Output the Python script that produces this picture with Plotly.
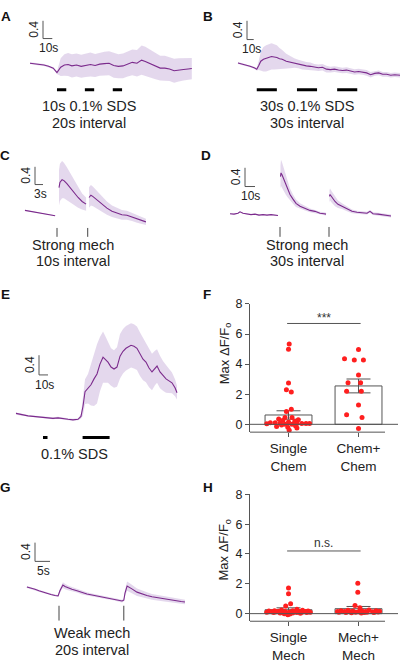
import plotly.graph_objects as go

W, H = 400, 663

# ---------------- data ----------------
# Panel A: 10s 0.1% SDS, 20s interval (time s, mean dF/F, sem)
A_t = [0, 5, 10, 15, 20, 25, 29, 33, 37, 41, 45, 50, 55, 60, 65, 70, 75, 80, 85, 90, 95, 100, 105, 110, 115,
       120, 124, 130, 135, 140, 145, 150, 155, 160, 165, 170, 174]
A_mean = [0.20, 0.19, 0.17, 0.16, 0.13, 0.09, -0.01, 0.11, 0.16, 0.17, 0.14, 0.16, 0.13, 0.15, 0.17, 0.15, 0.18,
          0.19, 0.20, 0.15, 0.13, 0.14, 0.18, 0.22, 0.20, 0.27, 0.24, 0.18, 0.13, 0.09, 0.09, 0.07, 0.03, 0.05,
          0.06, 0.07, 0.08]
A_sem = [0.02, 0.02, 0.02, 0.02, 0.02, 0.02, 0.03, 0.20, 0.24, 0.26, 0.26, 0.26, 0.26, 0.26, 0.27, 0.26, 0.26,
         0.27, 0.27, 0.28, 0.27, 0.28, 0.28, 0.29, 0.30, 0.33, 0.33, 0.31, 0.29, 0.28, 0.28, 0.27, 0.27, 0.26,
         0.25, 0.25, 0.24]
A_stim = [29, 59, 89]
A_stim_dur = 10

# Panel B: 30s 0.1% SDS, 30s interval
B_t = [0, 6, 12, 18, 24, 28, 31, 34, 38, 42, 46, 50, 54, 58, 62, 66, 72, 78, 84, 90, 96, 102, 108, 114, 120,
       126, 132, 138, 144, 150, 156, 162, 168, 174, 180, 186, 192, 198, 204, 210, 216, 222, 228, 234, 242]
B_mean = [0.13, 0.11, 0.08, 0.06, 0.03, 0.00, 0.08, 0.17, 0.21, 0.23, 0.25, 0.27, 0.26, 0.25, 0.22, 0.21, 0.17,
          0.15, 0.13, 0.11, 0.08, 0.07, 0.06, 0.04, 0.03, 0.04, 0.00, -0.01, 0.00, -0.02, -0.03, -0.02, -0.04,
          -0.06, -0.05, -0.06, -0.08, -0.12, -0.09, -0.08, -0.11, -0.11, -0.13, -0.12, -0.13]
B_sem = [0.02, 0.02, 0.02, 0.02, 0.02, 0.03, 0.10, 0.20, 0.26, 0.28, 0.28, 0.28, 0.27, 0.26, 0.23, 0.20, 0.16,
         0.13, 0.10, 0.09, 0.09, 0.08, 0.08, 0.07, 0.07, 0.07, 0.07, 0.06, 0.06, 0.06, 0.06, 0.06, 0.06, 0.06,
         0.06, 0.06, 0.06, 0.06, 0.05, 0.05, 0.05, 0.05, 0.05, 0.05, 0.05]
B_stim = [28, 88, 148]
B_stim_dur = 30

# Panel C: strong mech, 10s interval (separate recordings split at stimuli)
C_t = [-12.0, -10.1, -8.2, -6.4, -4.5, -2.6, -0.7,
       0.75, 1.1, 1.9, 2.6, 3.7, 4.9, 6.4, 7.9, 9.4, 10.9,
       12.0, 12.7, 13.5, 15.0, 16.9, 18.7, 20.6, 22.5, 24.3, 26.2, 28.1, 30.0, 31.8, 33.3]
C_mean = [0.13, 0.11, 0.09, 0.08, 0.06, 0.03, 0.01,
          0.64, 0.76, 0.82, 0.80, 0.73, 0.64, 0.53, 0.42, 0.33, 0.27,
          0.42, 0.47, 0.44, 0.36, 0.27, 0.18, 0.11, 0.07, 0.03, 0.02, -0.02, -0.07, -0.10, -0.13]
C_sem = [0.01, 0.01, 0.01, 0.01, 0.01, 0.01, 0.01,
         0.40, 0.42, 0.42, 0.40, 0.37, 0.33, 0.28, 0.23, 0.18, 0.15,
         0.23, 0.23, 0.22, 0.20, 0.17, 0.15, 0.13, 0.12, 0.11, 0.10, 0.09, 0.08, 0.08, 0.07]
C_stim = [0, 11.5]

# Panel D: strong mech, 30s interval
D_t = [-50, -46, -42, -40, -37, -33, -29, -25, -21, -17, -13, -9, -5, -2,
       0.5, 1, 2, 4, 6, 8, 10, 13, 16, 20, 25, 30, 35, 40, 44, 46,
       49.5, 50, 52, 55, 58, 62, 67, 72, 77, 82, 87, 90, 93, 98, 103, 108, 111]
D_mean = [0.01, 0.00, 0.02, 0.05, 0.02, 0.00, -0.01, 0.00, -0.02, -0.01, -0.02, -0.01, -0.02, -0.03,
          0.80, 0.88, 0.84, 0.74, 0.61, 0.51, 0.42, 0.32, 0.23, 0.17, 0.13, 0.08, 0.06, 0.02, 0.01, 0.00,
          0.38, 0.42, 0.36, 0.27, 0.21, 0.17, 0.11, 0.06, 0.04, 0.03, 0.02, 0.06, 0.01, 0.00, -0.02, -0.03, -0.04]
D_sem = [0.01, 0.01, 0.01, 0.01, 0.01, 0.01, 0.01, 0.01, 0.01, 0.01, 0.01, 0.01, 0.01, 0.01,
         0.25, 0.28, 0.27, 0.24, 0.20, 0.16, 0.13, 0.10, 0.08, 0.06, 0.05, 0.04, 0.03, 0.03, 0.03, 0.03,
         0.13, 0.13, 0.12, 0.10, 0.08, 0.06, 0.05, 0.04, 0.03, 0.03, 0.03, 0.03, 0.03, 0.03, 0.03, 0.03, 0.03]
D_stim = [0, 49]

# Panel E: 0.1% SDS (short then long)
E_t = [0, 4.4, 8.9, 13.3, 18.9, 24.4, 30, 35.6, 41.1, 46.7, 52.2, 57.8, 63.3, 68.9, 72.2, 74.4, 76.7, 80, 83.3,
       86.7, 90, 93.3, 96.7, 98.9, 102.2, 105.6, 108.9, 112.2, 115.6, 118.9, 122.2, 127.8, 131.1, 134.4, 137.8,
       141.1, 144.4, 147.8, 151.1, 154.4, 156.7, 160, 163.3, 166.7, 170, 173.3, 176.7, 178.9]
E_mean = [0.10, 0.08, 0.06, 0.05, 0.04, 0.03, 0.02, 0.01, 0.00, 0.01, -0.01, -0.02, -0.03, -0.02, 0.04, 0.24,
          0.54, 0.60, 0.68, 0.80, 0.90, 1.10, 1.24, 1.20, 1.14, 1.04, 1.00, 1.04, 1.26, 1.36, 1.42, 1.48, 1.46,
          1.42, 1.30, 1.20, 1.14, 1.02, 0.94, 1.02, 1.06, 0.94, 0.86, 0.80, 0.76, 0.72, 0.62, 0.52]
E_sem = [0.02, 0.02, 0.02, 0.02, 0.02, 0.02, 0.02, 0.02, 0.02, 0.02, 0.02, 0.02, 0.02, 0.02, 0.05, 0.18, 0.25,
         0.30, 0.42, 0.55, 0.60, 0.55, 0.52, 0.48, 0.42, 0.38, 0.38, 0.40, 0.45, 0.45, 0.45, 0.45, 0.45, 0.44,
         0.44, 0.43, 0.41, 0.39, 0.37, 0.35, 0.34, 0.33, 0.30, 0.28, 0.25, 0.21, 0.17, 0.14]
E_stim = [30, 74]
E_stim_dur = [5, 30]

# Panel G: weak mech, 20s interval
G_t = [-10.7, -9.3, -8.0, -6.7, -5.3, -4.0, -2.7, -1.3, -0.3, 0.3, 1.0, 1.3, 2.0, 3.0, 4.3, 6.0, 7.7, 9.3, 11.0,
       12.7, 14.3, 16.0, 17.7, 19.3, 21.0, 21.6, 22.0, 22.7, 23.3, 24.3, 26.0, 27.7, 29.3, 31.0, 32.7, 34.3,
       36.0, 37.7, 39.3, 40.7, 42.0]
G_mean = [0.19, 0.17, 0.14, 0.11, 0.08, 0.05, 0.03, 0.01, 0.00, 0.11, 0.21, 0.23, 0.20, 0.17, 0.14, 0.11, 0.07,
          0.04, 0.02, 0.00, -0.02, -0.04, -0.06, -0.08, -0.11, -0.09, 0.06, 0.21, 0.19, 0.15, 0.08, 0.04, 0.01,
          -0.02, -0.04, -0.06, -0.08, -0.09, -0.11, -0.12, -0.13]
G_sem = [0.02, 0.02, 0.02, 0.02, 0.02, 0.02, 0.02, 0.02, 0.02, 0.04, 0.06, 0.06, 0.06, 0.05, 0.05, 0.04, 0.04,
         0.04, 0.03, 0.03, 0.03, 0.03, 0.03, 0.03, 0.03, 0.03, 0.06, 0.10, 0.10, 0.09, 0.08, 0.07, 0.07, 0.06,
         0.06, 0.06, 0.06, 0.05, 0.05, 0.05, 0.05]
G_stim = [0, 21.6]

# Panel F: max dF/F0, chemical
F_cats = ["Single<br>Chem", "Chem+<br>Chem"]
F_bar_mean = [0.62, 2.55]
F_bar_sem = [0.28, 0.46]
F_single = [5.33, 4.98, 2.75, 2.30, 2.15, 1.00, 0.85, 0.45, 0.45, 0.35, 0.30, 0.25, 0.20, 0.15, 0.10, 0.10,
            0.08, 0.05, 0.05, 0.05, 0.05, 0.03, 0.00, 0.00, -0.05, -0.10, -0.15, -0.20, -0.25, -0.40]
F_single_dx = [0.01, 0, 0, -0.03, 0.04, 0.04, -0.03, -0.05, 0.05, -0.14, 0.14, -0.08, 0.09, 0, -0.26, -0.19,
               -0.12, 0.12, 0.19, 0.25, 0.30, -0.31, -0.05, 0.05, -0.10, 0.10, -0.17, -0.01, 0.12, 0.01]
F_double = [4.97, 4.36, 4.28, 4.28, 3.28, 2.76, 2.76, 2.20, 2.20, 1.28, 0.63, 0.46, -0.28]
F_double_dx = [0, -0.20, -0.06, 0.07, 0, -0.15, 0.03, -0.17, 0.04, 0, -0.17, 0.05, 0]
F_sig = ("***", 6.7)

# Panel H: max dF/F0, mechanical
H_cats = ["Single<br>Mech", "Mech+<br>Mech"]
H_bar_mean = [0.26, 0.33]
H_bar_sem = [0.13, 0.15]
H_single = [1.71, 1.34, 0.66, 0.51, 0.30, 0.25, 0.22, 0.20, 0.20, 0.18, 0.17, 0.16, 0.15, 0.15, 0.14, 0.13,
            0.12, 0.12, 0.11, 0.10, 0.10, 0.10, 0.09, 0.08, 0.08, 0.07, 0.06, 0.05, 0.04, 0.03, 0.00, -0.03, -0.07]
H_single_dx = [0, 0, 0.03, -0.04, 0.12, -0.10, 0.20, -0.20, 0.06, -0.28, 0.28, -0.14, 0.15, -0.05, 0.24, -0.24,
               0.09, -0.17, 0.02, 0.31, -0.31, 0.19, -0.09, 0.12, -0.21, 0.26, -0.01, 0.06, -0.12, 0.17, -0.06,
               0.02, -0.01]
H_double = [2.04, 1.43, 0.55, 0.40, 0.25, 0.22, 0.20, 0.19, 0.18, 0.17, 0.16, 0.15, 0.14, 0.14, 0.13, 0.12,
            0.12, 0.11, 0.10, 0.10, 0.09, 0.08, 0.08, 0.07, 0.06, 0.05]
H_double_dx = [-0.01, -0.01, -0.05, 0.02, 0.15, -0.15, 0.25, -0.25, 0.05, -0.08, 0.30, -0.30, 0.10, -0.20, 0.20,
               -0.12, 0.00, 0.28, -0.28, 0.12, -0.04, 0.08, -0.18, 0.22, -0.10, 0.04]
H_sig = ("n.s.", 4.2)

Y_TICKS = [0, 2, 4, 6, 8]

# ---------------- style ----------------
FONT = "Arial, 'Liberation Sans', Helvetica, sans-serif"
PURPLE = "#7b2a8c"
BAND = "rgba(150,105,185,0.26)"
GRAY = "#555555"
TXT = "#222222"
RED = "#ff1f1f"

fig = go.Figure()
axes = {}
shapes = []
anns = []


def names(i):
    s = "" if i == 1 else str(i)
    return "xaxis" + s, "yaxis" + s, "x" + s, "y" + s


def text(t, x, y, size=14, angle=0, color=TXT, **kw):
    d = dict(text=t, x=x / W, y=1 - y / H, xref="paper", yref="paper", showarrow=False,
             xanchor="center", yanchor="middle", textangle=angle,
             font=dict(size=size, color=color, family=FONT))
    d.update(kw)
    anns.append(d)


def trace_panel(i, box, origin, sx, sy, t, mean, sem, splits=None):
    xa, ya, xr, yr = names(i)
    x0, x1, yt, yb = box
    ox, oy = origin
    axes[xa] = dict(domain=[x0 / W, x1 / W], range=[(x0 - ox) / sx, (x1 - ox) / sx], visible=False,
                    anchor=yr, fixedrange=True)
    axes[ya] = dict(domain=[1 - yb / H, 1 - yt / H], range=[(oy - yb) / sy, (oy - yt) / sy], visible=False,
                    anchor=xr, fixedrange=True)
    segs = {}
    for ti, mi, si in zip(t, mean, sem):
        k = sum(1 for s in (splits or []) if ti >= s)
        segs.setdefault(k, []).append((ti, mi, si))
    for k in sorted(segs):
        ts = [p[0] for p in segs[k]]
        up = [p[1] + p[2] for p in segs[k]]
        lo = [p[1] - p[2] for p in segs[k]]
        fig.add_trace(go.Scatter(x=ts + ts[::-1], y=up + lo[::-1], fill="toself", fillcolor=BAND,
                                 line=dict(width=0), mode="lines", hoverinfo="skip", xaxis=xr, yaxis=yr))
        fig.add_trace(go.Scatter(x=ts, y=[p[1] for p in segs[k]], mode="lines",
                                 line=dict(color=PURPLE, width=1.1), xaxis=xr, yaxis=yr))
    tx = lambda px: (px - ox) / sx
    vy = lambda py: (oy - py) / sy
    return xr, yr, tx, vy, sx, sy


def scale_bar(p, corner, v_len, t_len):
    xr, yr, tx, vy, sx, sy = p
    cx, cy = corner
    ln = dict(color=GRAY, width=1)
    shapes.append(dict(type="line", xref=xr, yref=yr, x0=tx(cx), x1=tx(cx), y0=vy(cy), y1=vy(cy) + v_len, line=ln))
    shapes.append(dict(type="line", xref=xr, yref=yr, x0=tx(cx), x1=tx(cx) + t_len, y0=vy(cy), y1=vy(cy), line=ln))
    text(f"{v_len}", cx - 9, cy - v_len * sy / 2, size=12, angle=-90)
    text(f"{t_len}s", cx + t_len * sx / 2 + 1, cy + 10, size=12)


def stim_bars(p, onsets, durs, py):
    xr, yr, tx, vy, sx, sy = p
    if not isinstance(durs, list):
        durs = [durs] * len(onsets)
    for o, d in zip(onsets, durs):
        shapes.append(dict(type="line", xref=xr, yref=yr, x0=o, x1=o + d, y0=vy(py), y1=vy(py),
                           line=dict(color="black", width=3)))


def stim_ticks(p, onsets, py0, py1):
    xr, yr, tx, vy, sx, sy = p
    for o in onsets:
        shapes.append(dict(type="line", xref=xr, yref=yr, x0=o, x1=o, y0=vy(py0), y1=vy(py1),
                           line=dict(color="#444", width=1)))


# ---- A ----
pA = trace_panel(1, (20, 200, 5, 95), (30, 66), 0.93, 45, A_t, A_mean, A_sem)
scale_bar(pA, (43, 32), 0.4, 10)
stim_bars(pA, A_stim, A_stim_dur, 84)
text("10s 0.1% SDS", 89, 100, size=14.5)
text("20s interval", 89, 118, size=14.5)

# ---- B ----
pB = trace_panel(2, (228, 400, 5, 95), (238, 63), 0.67, 47.5, B_t, B_mean, B_sem)
scale_bar(pB, (247, 33), 0.4, 10)
stim_bars(pB, B_stim, B_stim_dur, 84)
text("30s 0.1% SDS", 307, 100, size=14.5)
text("30s interval", 307, 118, size=14.5)

# ---- C ----
pC = trace_panel(3, (15, 160, 148, 236), (57, 212), 2.67, 45, C_t, C_mean, C_sem, splits=C_stim)
scale_bar(pC, (35, 180), 0.4, 3)
stim_ticks(pC, C_stim, 224, 233)
text("Strong mech", 73, 241, size=14.5)
text("10s interval", 73, 258, size=14.5)

# ---- D ----
pD = trace_panel(4, (222, 400, 148, 236), (280, 210), 1.0, 47.5, D_t, D_mean, D_sem, splits=D_stim)
scale_bar(pD, (245, 182), 0.4, 10)
stim_ticks(pD, D_stim, 223, 233)
text("Strong mech", 307, 241, size=14.5)
text("30s interval", 307, 258, size=14.5)

# ---- E ----
pE = trace_panel(5, (10, 185, 315, 440), (16, 417), 0.9, 50, E_t, E_mean, E_sem)
scale_bar(pE, (39, 373), 0.4, 10)
stim_bars(pE, E_stim, E_stim_dur, 436.5)
text("0.1% SDS", 74, 453, size=14.5)

# ---- G ----
pG = trace_panel(7, (15, 195, 530, 628), (59, 597), 3.0, 47.5, G_t, G_mean, G_sem)
scale_bar(pG, (35, 562), 0.4, 5)
stim_ticks(pG, G_stim, 607, 622)
text("Weak mech", 92, 635, size=14.5)
text("20s interval", 92, 652, size=14.5)


# ---- bar panels ----
def bar_panel(i, ydom, yrange, cats, means, sems, g1, g1dx, g2, g2dx, sig, ytitle_y):
    xa, ya, xr, yr = names(i)
    x0, x1 = 250, 398
    axes[xa] = dict(domain=[x0 / W, x1 / W], range=[0.45, 2.564], tickvals=[1, 2], ticktext=cats,
                    showline=False, showgrid=False, zeroline=False, ticks="outside", ticklen=4,
                    tickcolor=GRAY, tickfont=dict(size=13.5, color=TXT, family=FONT), anchor=yr,
                    fixedrange=True)
    axes[ya] = dict(domain=[1 - ydom[1] / H, 1 - ydom[0] / H], range=yrange, tickvals=Y_TICKS,
                    showline=True, linecolor=GRAY, linewidth=1, showgrid=False, zeroline=False,
                    ticks="outside", ticklen=4, tickcolor=GRAY,
                    tickfont=dict(size=12.5, color=TXT, family=FONT), anchor=xr, fixedrange=True)
    fig.add_trace(go.Bar(x=[1, 2], y=means, width=0.67, xaxis=xr, yaxis=yr,
                         marker=dict(color="white", line=dict(color=GRAY, width=1)),
                         error_y=dict(type="data", array=sems, color=GRAY, thickness=1, width=12)))
    fig.add_trace(go.Scatter(x=[1 + d for d in g1dx], y=g1, mode="markers", xaxis=xr, yaxis=yr,
                             marker=dict(color=RED, size=5, line=dict(width=0))))
    fig.add_trace(go.Scatter(x=[2 + d for d in g2dx], y=g2, mode="markers", xaxis=xr, yaxis=yr,
                             marker=dict(color=RED, size=5, line=dict(width=0))))
    # zero line and bottom axis line
    shapes.append(dict(type="line", xref=xr + " domain", yref=yr, x0=0, x1=1, y0=0, y1=0,
                       line=dict(color=GRAY, width=1)))
    shapes.append(dict(type="line", xref=xr + " domain", yref=yr + " domain", x0=0, x1=(385 - 250) / 148,
                       y0=0, y1=0, line=dict(color=GRAY, width=1)))
    # significance
    shapes.append(dict(type="line", xref=xr, yref=yr, x0=0.98, x1=2.03, y0=sig[1], y1=sig[1],
                       line=dict(color=GRAY, width=1)))
    anns.append(dict(text=sig[0], x=1.5, y=sig[1], xref=xr, yref=yr, showarrow=False,
                     xanchor="center", yanchor="middle", yshift=5 if sig[0] == "***" else 8,
                     font=dict(size=12, color="#333", family=FONT)))
    text("Max ΔF/F<sub>o</sub>", 225, ytitle_y, size=13, angle=-90)


bar_panel(6, (301, 431), [-0.52, 8], F_cats, F_bar_mean, F_bar_sem, F_single, F_single_dx,
          F_double, F_double_dx, F_sig, 352)
bar_panel(8, (494, 622.7), [-0.51, 8], H_cats, H_bar_mean, H_bar_sem, H_single, H_single_dx,
          H_double, H_double_dx, H_sig, 551)

# ---- panel letters ----
for lab, x, y in [("A", 6, 10), ("B", 208, 10), ("C", 5, 151), ("D", 206, 151),
                  ("E", 5, 291), ("F", 207, 291), ("G", 5, 487), ("H", 208, 487)]:
    text(f"<b>{lab}</b>", x, y, size=13.5, color="#111")

fig.update_layout(width=W, height=H, margin=dict(l=0, r=0, t=0, b=0), showlegend=False,
                  paper_bgcolor="white", plot_bgcolor="rgba(0,0,0,0)", hovermode=False,
                  font=dict(family=FONT, color=TXT), shapes=shapes, annotations=anns, **axes)

fig.write_html("out.html", config={"displayModeBar": False, "staticPlot": True},
               post_script="document.body.style.margin='0';document.body.style.overflow='hidden';")
